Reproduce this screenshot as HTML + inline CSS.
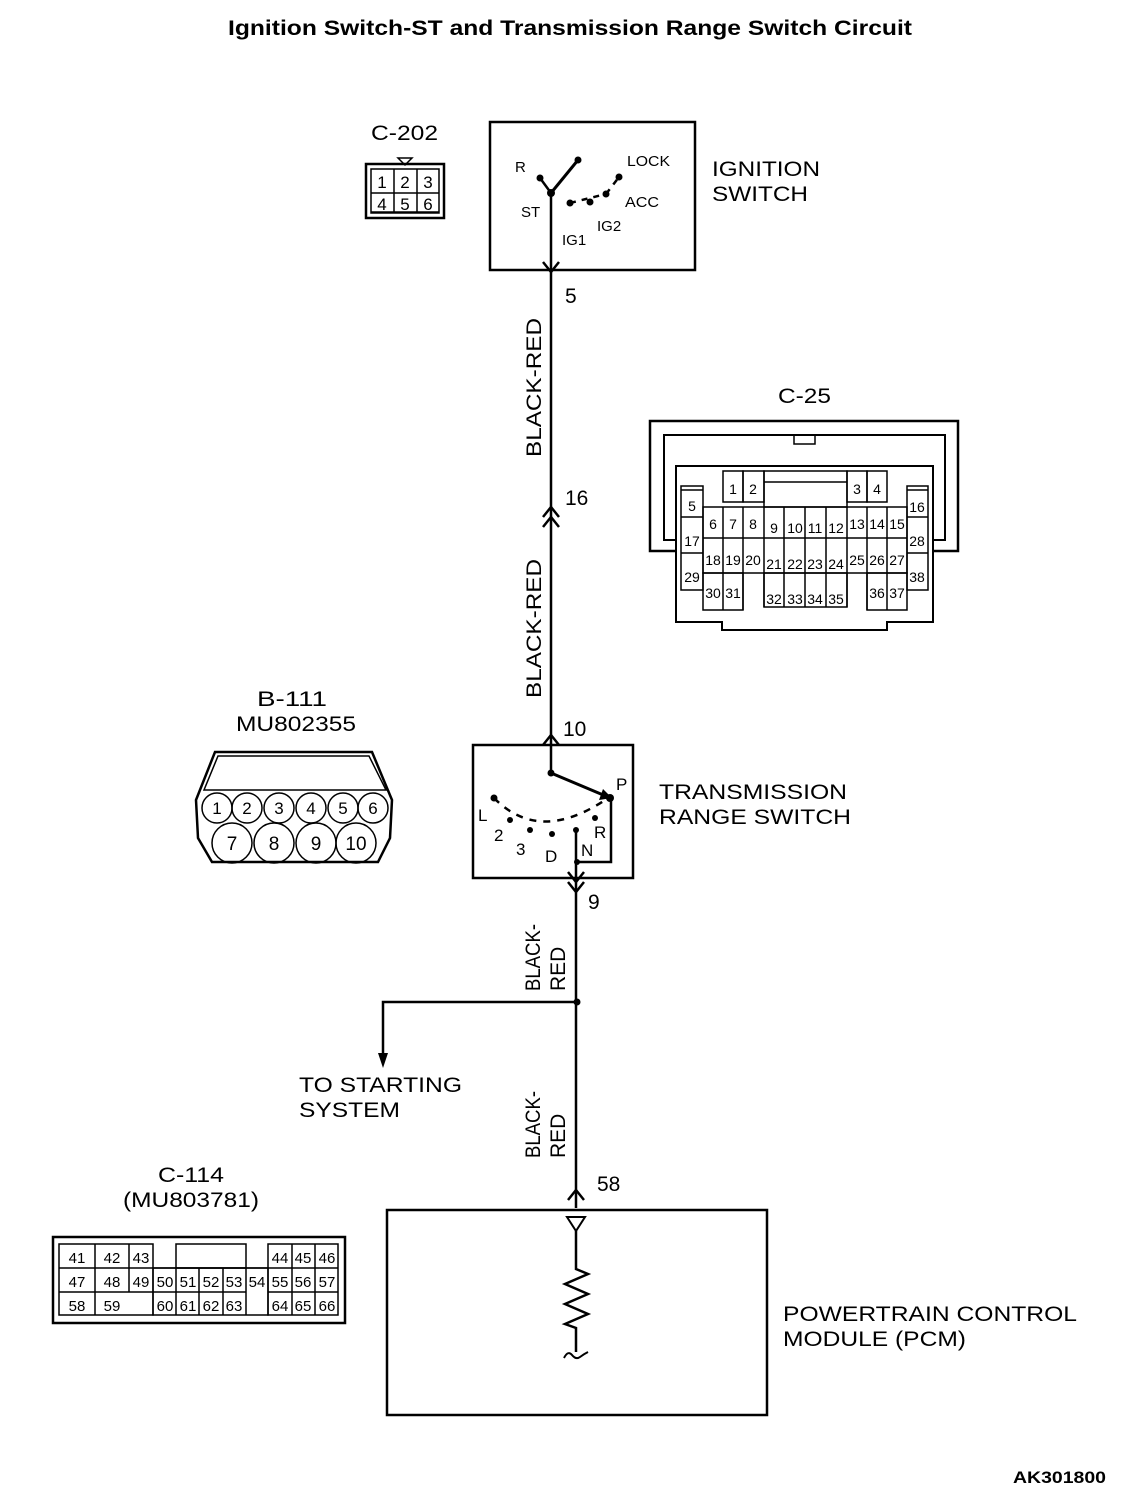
<!DOCTYPE html>
<html><head><meta charset="utf-8"><style>
html,body{margin:0;padding:0;background:#fff;}
svg{display:block;font-family:"Liberation Sans",Arial,sans-serif;}
</style></head><body>
<svg width="1136" height="1500" viewBox="0 0 1136 1500" xmlns="http://www.w3.org/2000/svg">
<rect width="1136" height="1500" fill="#fff"/>
<text x="228" y="35" font-size="21" font-weight="bold" textLength="684" lengthAdjust="spacingAndGlyphs">Ignition Switch-ST and Transmission Range Switch Circuit</text>

<g fill="none" stroke="#000" stroke-width="2.5">
<rect x="490" y="122" width="205" height="148"/>
<line x1="551" y1="193" x2="551" y2="745"/>
<polyline points="543,262 551,272 559,262"/>
<polyline points="543,527 551,517 559,527"/>
<polyline points="543,517 551,507 559,517"/>
<polyline points="543,745 551,735 559,745"/>
<line x1="551" y1="193" x2="578" y2="160" stroke-width="3"/>
<line x1="551" y1="193" x2="540" y2="178"/>
<line x1="570" y1="203" x2="606" y2="194" stroke-dasharray="6,6"/>
<line x1="606" y1="194" x2="619" y2="177" stroke-dasharray="6,6"/>

<rect x="473" y="745" width="160" height="133"/>
<line x1="551" y1="745" x2="551" y2="773"/>
<line x1="551" y1="773" x2="608" y2="797" stroke-width="3"/>
<polyline points="577,862 611,862 611,798"/>
<path d="M494,798 Q540,845 608,798" stroke-dasharray="7,7"/>
<line x1="576" y1="830" x2="576" y2="1208"/>
<polyline points="568,872 576,882 584,872"/>
<polyline points="568,882 576,892 584,882"/>

<polyline points="577,1002 383,1002 383,1058"/>
<polyline points="568,1200 576,1190 584,1200"/>

<rect x="387" y="1210" width="380" height="205"/>
<polygon points="567,1217 585,1217 576,1231" stroke-width="2"/>
<polyline points="576,1231 576,1269 588,1274 565,1284 588,1294 565,1304 588,1314 565,1324 576,1328 576,1352" stroke-width="2.5"/>
<path d="M564,1358 Q568,1350 572,1355 T580,1357 T588,1352" stroke-width="2"/>

<rect x="366" y="164" width="78" height="54" stroke-width="2.5"/>
<rect x="371" y="169" width="68" height="44" stroke-width="1.5"/>
<line x1="371" y1="193" x2="439" y2="193" stroke-width="1.5"/>
<line x1="371" y1="212" x2="439" y2="212" stroke-width="1.5"/>
<line x1="394" y1="169" x2="394" y2="212" stroke-width="1.5"/>
<line x1="417" y1="169" x2="417" y2="212" stroke-width="1.5"/>
<polygon points="398,158 412,158 405,165" stroke-width="1.5"/>

<path d="M215,752 L372,752 L392,800 L390,838 L378,862 L212,862 L198,838 L196,800 Z" stroke-width="2.5"/>
<path d="M218,756 L369,756 L386,790 L204,790 Z" stroke-width="1.5"/>
<g stroke-width="1.5">
<circle cx="217" cy="808" r="15"/><circle cx="247" cy="808" r="15"/><circle cx="279" cy="808" r="15"/>
<circle cx="311" cy="808" r="15"/><circle cx="343" cy="808" r="15"/><circle cx="373" cy="808" r="15"/>
<circle cx="232" cy="843" r="20"/><circle cx="274" cy="843" r="20"/><circle cx="316" cy="843" r="20"/><circle cx="356" cy="843" r="20"/>
</g>

<path d="M676,551 L650,551 L650,421 L958,421 L958,551 L933,551" stroke-width="2.5"/>
<path d="M676,540 L664,540 L664,435 L945,435 L945,540 L933,540" stroke-width="2"/>
<rect x="794" y="435" width="21" height="9" stroke-width="1.5"/>
<path d="M676,466 L933,466 L933,622 L887,622 L887,630 L722,630 L722,622 L676,622 Z" stroke-width="2"/>
</g>

<g fill="none" stroke="#000" stroke-width="1.5">
<rect x="723" y="471" width="20" height="31"/><rect x="743" y="471" width="21" height="31"/>
<rect x="764" y="471" width="83" height="36"/><line x1="764" y1="482" x2="847" y2="482"/>
<rect x="847" y="471" width="20" height="31"/><rect x="867" y="471" width="20" height="31"/>
<rect x="681" y="486" width="22" height="104"/><line x1="681" y1="490" x2="703" y2="490"/>
<line x1="681" y1="517" x2="703" y2="517"/><line x1="681" y1="553" x2="703" y2="553"/>
<rect x="907" y="486" width="21" height="104"/><line x1="907" y1="490" x2="928" y2="490"/>
<line x1="907" y1="517" x2="928" y2="517"/><line x1="907" y1="553" x2="928" y2="553"/>
<rect x="703" y="507" width="204" height="66"/>
<line x1="703" y1="538" x2="907" y2="538"/>
<line x1="723" y1="507" x2="723" y2="610"/><line x1="743" y1="507" x2="743" y2="610"/>
<line x1="764" y1="507" x2="764" y2="607"/><line x1="784" y1="507" x2="784" y2="607"/>
<line x1="805" y1="507" x2="805" y2="607"/><line x1="826" y1="507" x2="826" y2="607"/>
<line x1="847" y1="507" x2="847" y2="607"/><line x1="867" y1="507" x2="867" y2="610"/>
<line x1="887" y1="507" x2="887" y2="610"/>
<rect x="764" y="573" width="83" height="34"/>
<rect x="703" y="573" width="40" height="37"/><rect x="867" y="573" width="40" height="37"/>
</g>
<g font-size="14" text-anchor="middle">
<text x="733" y="494">1</text><text x="753" y="494">2</text><text x="857" y="494">3</text><text x="877" y="494">4</text>
<text x="692" y="511">5</text><text x="917" y="512">16</text>
<text x="713" y="529">6</text><text x="733" y="529">7</text><text x="753" y="529">8</text>
<text x="774" y="533">9</text><text x="795" y="533">10</text><text x="815" y="533">11</text><text x="836" y="533">12</text>
<text x="857" y="529">13</text><text x="877" y="529">14</text><text x="897" y="529">15</text>
<text x="692" y="546">17</text><text x="917" y="546">28</text>
<text x="713" y="565">18</text><text x="733" y="565">19</text><text x="753" y="565">20</text>
<text x="774" y="569">21</text><text x="795" y="569">22</text><text x="815" y="569">23</text><text x="836" y="569">24</text>
<text x="857" y="565">25</text><text x="877" y="565">26</text><text x="897" y="565">27</text>
<text x="692" y="582">29</text><text x="917" y="582">38</text>
<text x="713" y="598">30</text><text x="733" y="598">31</text>
<text x="774" y="604">32</text><text x="795" y="604">33</text><text x="815" y="604">34</text><text x="836" y="604">35</text>
<text x="877" y="598">36</text><text x="897" y="598">37</text>
</g>

<g fill="none" stroke="#000">
<rect x="53" y="1237" width="292" height="86" stroke-width="2.5"/>
<g stroke-width="1.5">
<rect x="59" y="1244" width="94" height="71"/>
<line x1="59" y1="1268" x2="338" y2="1268"/><line x1="59" y1="1292" x2="153" y2="1292"/>
<line x1="95" y1="1244" x2="95" y2="1315"/><line x1="129" y1="1244" x2="129" y2="1292"/>
<rect x="176" y="1244" width="70" height="24"/>
<rect x="153" y="1268" width="115" height="47"/>
<line x1="153" y1="1292" x2="246" y2="1292"/>
<line x1="176" y1="1268" x2="176" y2="1315"/><line x1="199" y1="1268" x2="199" y2="1315"/>
<line x1="223" y1="1268" x2="223" y2="1315"/><line x1="246" y1="1268" x2="246" y2="1315"/>
<rect x="268" y="1244" width="70" height="71"/>
<line x1="268" y1="1292" x2="338" y2="1292"/>
<line x1="292" y1="1244" x2="292" y2="1315"/><line x1="315" y1="1244" x2="315" y2="1315"/>
</g></g>
<g font-size="15" text-anchor="middle">
<text x="77" y="1263">41</text><text x="112" y="1263">42</text><text x="141" y="1263">43</text>
<text x="280" y="1263">44</text><text x="303" y="1263">45</text><text x="327" y="1263">46</text>
<text x="77" y="1287">47</text><text x="112" y="1287">48</text><text x="141" y="1287">49</text>
<text x="165" y="1287">50</text><text x="188" y="1287">51</text><text x="211" y="1287">52</text><text x="234" y="1287">53</text>
<text x="257" y="1287">54</text><text x="280" y="1287">55</text><text x="303" y="1287">56</text><text x="327" y="1287">57</text>
<text x="77" y="1311">58</text><text x="112" y="1311">59</text>
<text x="165" y="1311">60</text><text x="188" y="1311">61</text><text x="211" y="1311">62</text><text x="234" y="1311">63</text>
<text x="280" y="1311">64</text><text x="303" y="1311">65</text><text x="327" y="1311">66</text>
</g>

<g fill="#000">
<circle cx="551" cy="193" r="4"/><circle cx="540" cy="178" r="3.5"/><circle cx="578" cy="160" r="3.5"/>
<circle cx="570" cy="203" r="3.5"/><circle cx="590" cy="202" r="3.5"/><circle cx="606" cy="194" r="3.5"/><circle cx="619" cy="177" r="3.5"/>
<circle cx="551" cy="773" r="3.5"/><circle cx="610" cy="798" r="4"/><circle cx="494" cy="798" r="3.5"/>
<circle cx="510" cy="820" r="3"/><circle cx="530" cy="830" r="3"/><circle cx="552" cy="834" r="3"/><circle cx="576" cy="830" r="3"/><circle cx="595" cy="818" r="3"/>
<circle cx="577" cy="862" r="3"/>
<polygon points="603,789 612,798 599,800"/>
<circle cx="577" cy="1002" r="3.5"/>
<polygon points="378,1053 388,1053 383,1068"/>
</g>

<g font-size="15">
<text x="515" y="172">R</text><text x="627" y="166" textLength="43" lengthAdjust="spacingAndGlyphs">LOCK</text>
<text x="521" y="217">ST</text><text x="625" y="207" textLength="34" lengthAdjust="spacingAndGlyphs">ACC</text>
<text x="562" y="245">IG1</text><text x="597" y="231">IG2</text>
</g>
<g font-size="21" lengthAdjust="spacingAndGlyphs">
<text x="712" y="176" textLength="108" lengthAdjust="spacingAndGlyphs">IGNITION</text>
<text x="712" y="201" textLength="96" lengthAdjust="spacingAndGlyphs">SWITCH</text>
<text x="371" y="140" textLength="67" lengthAdjust="spacingAndGlyphs">C-202</text>
<text x="565" y="303">5</text><text x="565" y="505">16</text><text x="563" y="736">10</text>
<text x="778" y="403" textLength="53" lengthAdjust="spacingAndGlyphs">C-25</text>
<text x="257" y="706" textLength="70" lengthAdjust="spacingAndGlyphs">B-111</text>
<text x="236" y="731" textLength="120" lengthAdjust="spacingAndGlyphs">MU802355</text>
<text x="659" y="799" textLength="188" lengthAdjust="spacingAndGlyphs">TRANSMISSION</text>
<text x="659" y="824" textLength="192" lengthAdjust="spacingAndGlyphs">RANGE SWITCH</text>
<text x="588" y="909">9</text>
<text x="299" y="1092" textLength="163" lengthAdjust="spacingAndGlyphs">TO STARTING</text>
<text x="299" y="1117" textLength="101" lengthAdjust="spacingAndGlyphs">SYSTEM</text>
<text x="597" y="1191">58</text>
<text x="158" y="1182" textLength="66" lengthAdjust="spacingAndGlyphs">C-114</text>
<text x="123" y="1207" textLength="136" lengthAdjust="spacingAndGlyphs">(MU803781)</text>
<text x="783" y="1321" textLength="294" lengthAdjust="spacingAndGlyphs">POWERTRAIN CONTROL</text>
<text x="783" y="1346" textLength="183" lengthAdjust="spacingAndGlyphs">MODULE (PCM)</text>
</g>
<g font-size="17">
<text x="616" y="790">P</text><text x="478" y="821">L</text><text x="494" y="841">2</text>
<text x="516" y="855">3</text><text x="545" y="862">D</text><text x="581" y="856">N</text><text x="594" y="838">R</text>
</g>
<g font-size="17" text-anchor="middle">
<text x="217" y="814">1</text><text x="247" y="814">2</text><text x="279" y="814">3</text><text x="311" y="814">4</text><text x="343" y="814">5</text><text x="373" y="814">6</text>
<text x="232" y="850" font-size="19">7</text><text x="274" y="850" font-size="19">8</text><text x="316" y="850" font-size="19">9</text><text x="356" y="850" font-size="19">10</text>
<text x="382" y="188">1</text><text x="405" y="188">2</text><text x="428" y="188">3</text>
<text x="382" y="210">4</text><text x="405" y="210">5</text><text x="428" y="210">6</text>
</g>
<g font-size="21">
<text transform="translate(541,457) rotate(-90)" textLength="139" lengthAdjust="spacingAndGlyphs">BLACK-RED</text>
<text transform="translate(541,698) rotate(-90)" textLength="139" lengthAdjust="spacingAndGlyphs">BLACK-RED</text>
<text transform="translate(540,991) rotate(-90)" textLength="67" lengthAdjust="spacingAndGlyphs">BLACK-</text>
<text transform="translate(565,991) rotate(-90)">RED</text>
<text transform="translate(540,1158) rotate(-90)" textLength="67" lengthAdjust="spacingAndGlyphs">BLACK-</text>
<text transform="translate(565,1158) rotate(-90)">RED</text>
</g>
<text x="1013" y="1483" font-size="17" font-weight="bold" textLength="93" lengthAdjust="spacingAndGlyphs">AK301800</text>
</svg>
</body></html>
